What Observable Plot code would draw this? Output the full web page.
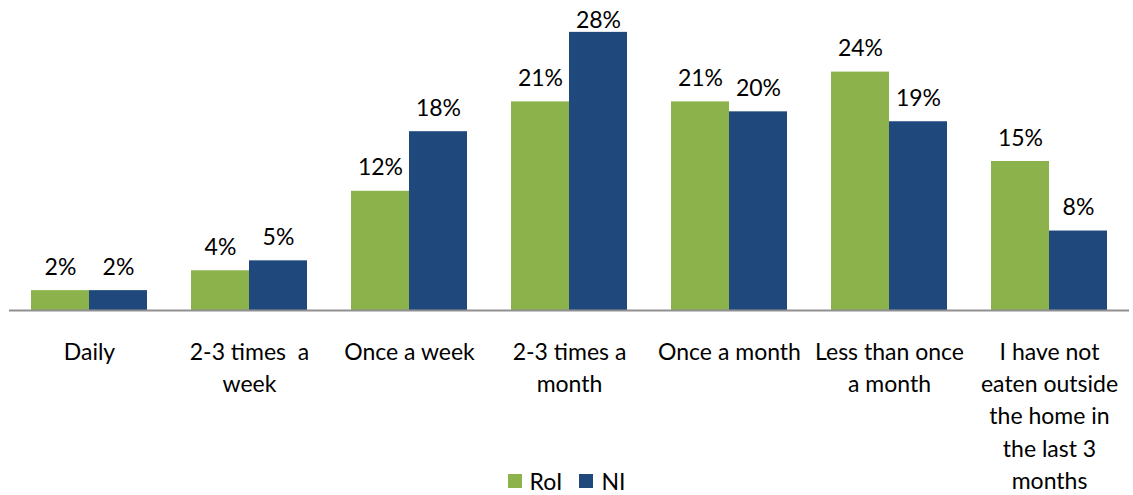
<!DOCTYPE html>
<html>
<head>
<meta charset="utf-8">
<script src="https://cdn.jsdelivr.net/npm/d3@7"></script>
<script src="https://cdn.jsdelivr.net/npm/@observablehq/plot@0.6"></script>
<style>
  html, body { margin: 0; padding: 0; background: #fff; }
  #wrap { position: relative; width: 1133px; height: 495px; overflow: hidden; }
  #legend { position: absolute; left: 0; top: 467px; width: 1133px; display: flex; justify-content: center; }
  .lg { display: flex; align-items: center; font-family: Lato, sans-serif; font-size: 23px; color: #000; }
  .sw { width: 14px; height: 14px; display: inline-block; margin-right: 8px; }
</style>
</head>
<body>
<div id="wrap"></div>
<script>
const categories = ["Daily", "2-3 times a week", "Once a week", "2-3 times a month", "Once a month", "Less than once a month", "I have not eaten outside the home in the last 3 months"];
const tickLabels = ["Daily", "2-3 times  a\nweek", "Once a week", "2-3 times a\nmonth", "Once a month", "Less than once\na month", "I have not\neaten outside\nthe home in\nthe last 3\nmonths"];
const series = ["RoI", "NI"];
const roiValues = [2, 4, 12, 21, 21, 24, 15];
const niValues = [2, 5, 18, 28, 20, 19, 8];
const colors = ["#8cb34b", "#1f497d"];
const yMax = 30;
const labelCap = 26.8; // labels are kept inside the plot area, as in the original

const data = [];
categories.forEach((c, i) => {
  data.push({category: c, series: "RoI", value: roiValues[i]});
  data.push({category: c, series: "NI", value: niValues[i]});
});
const labelData = categories.map((c, i) => ({category: c, label: tickLabels[i]}));

const font = "Lato, sans-serif";

const chart = Plot.plot({
  width: 1133,
  height: 495,
  marginLeft: 9,
  marginRight: 4,
  marginTop: 12,
  marginBottom: 185,
  style: {fontFamily: font, fontSize: "23px", color: "#000", background: "#fff"},
  fx: {domain: categories, paddingInner: 0, paddingOuter: 0, axis: null, label: null},
  x: {domain: series, paddingInner: 0, paddingOuter: 0.3793, axis: null},
  y: {domain: [0, yMax], axis: null},
  color: {domain: series, range: colors},
  marks: [
    Plot.barY(data, {fx: "category", x: "series", y: "value", fill: "series", inset: 0}),
    Plot.ruleY([0], {stroke: "#909090", strokeWidth: 2}),
    Plot.text(data, {fx: "category", x: "series", y: d => Math.min(d.value, labelCap), text: d => d.value + "%", lineAnchor: "bottom", dy: -16, fill: "#000", fontSize: 23}),
    Plot.text(labelData, {fx: "category", text: "label", frameAnchor: "bottom", lineAnchor: "top", dy: 26, lineHeight: 1.41, fill: "#000", fontSize: 23})
  ]
});
document.getElementById("wrap").appendChild(chart);

const legend = document.createElement("div");
legend.id = "legend";
series.forEach((s, i) => {
  const item = document.createElement("span");
  item.className = "lg";
  item.style.marginRight = i === 0 ? "17px" : "0";
  const sw = document.createElement("span");
  sw.className = "sw";
  sw.style.background = colors[i];
  item.appendChild(sw);
  item.appendChild(document.createTextNode(s));
  legend.appendChild(item);
});
document.getElementById("wrap").appendChild(legend);
</script>
</body>
</html>
